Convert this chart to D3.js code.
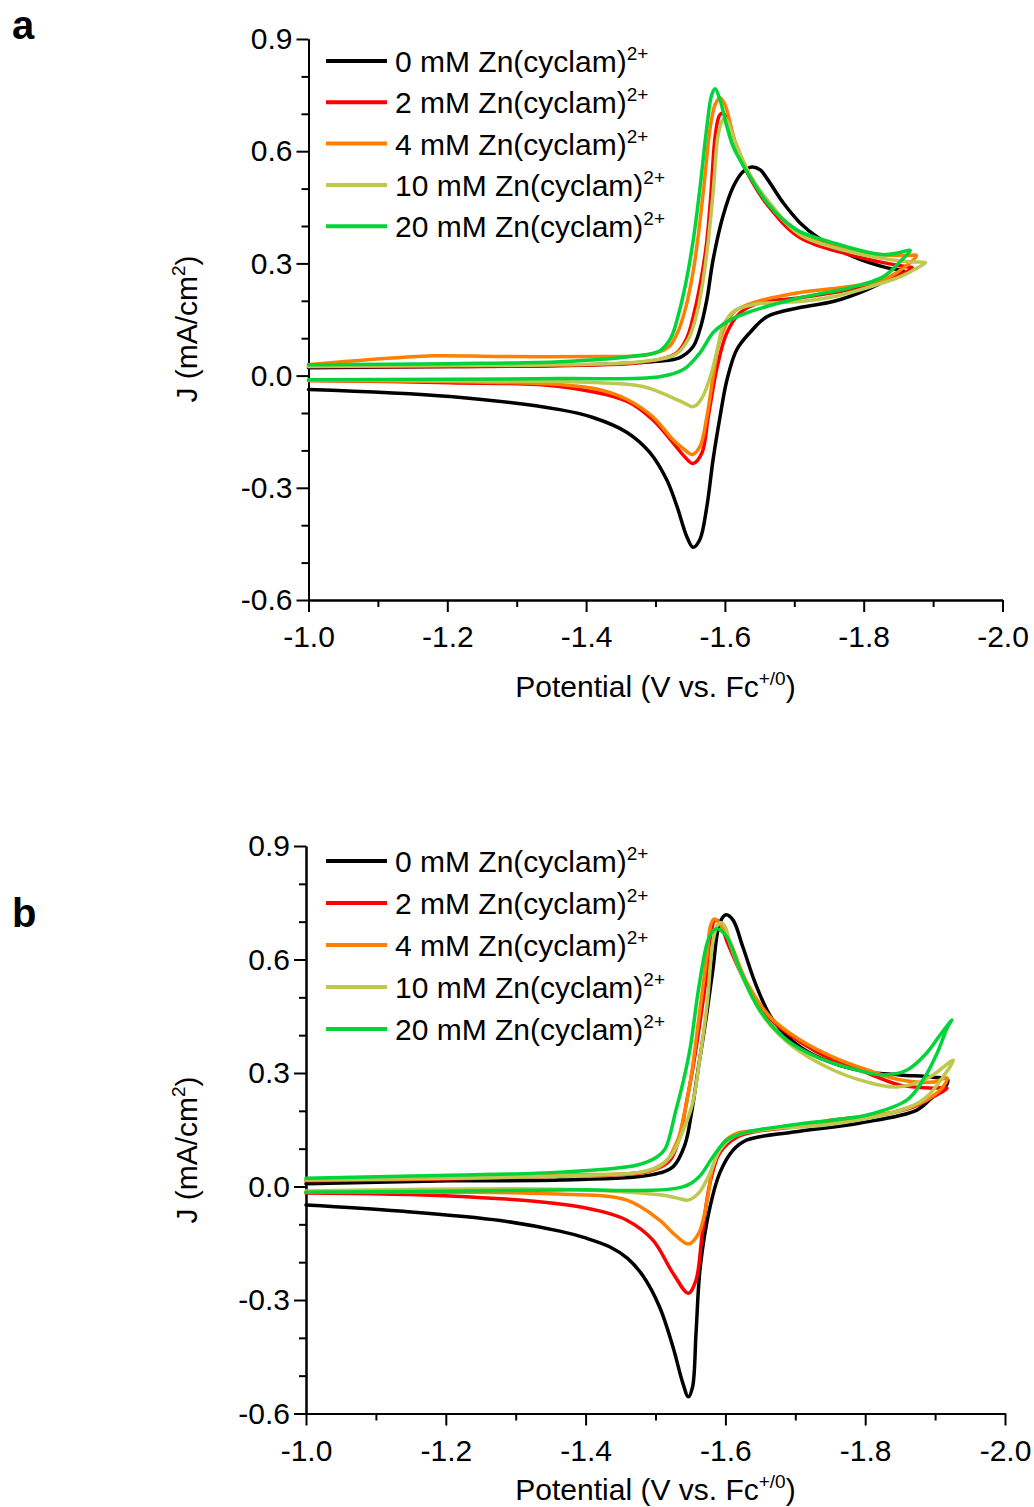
<!DOCTYPE html>
<html>
<head>
<meta charset="utf-8">
<script src="https://cdn.jsdelivr.net/npm/d3@7"></script>
<style>
    html, body { margin: 0; padding: 0; background: #fff; }
    svg { display: block; }
    text { font-family: "Liberation Sans", Arial, sans-serif; fill: #000; }
</style>
</head>
<body>
<svg id="chart" width="1034" height="1507"></svg>
<script>
// Cyclic voltammograms, [potential (V vs Fc+/0), J (mA/cm2)] in scan order.

const concentrations = ['0', '2', '4', '10', '20'];
const seriesColors = ['#000000', '#ff0000', '#ff8000', '#bec84e', '#00d43a'];

const E_MAJOR = [-1.0, -1.2, -1.4, -1.6, -1.8, -2.0];
const E_MINOR = [-1.1, -1.3, -1.5, -1.7, -1.9];
const J_MAJOR = [-0.6, -0.3, 0.0, 0.3, 0.6, 0.9];
const J_MINOR = [-0.5, -0.4, -0.2, -0.1, 0.1, 0.2, 0.4, 0.5, 0.7, 0.8];

// panel a
const cvA0 = [
    [-1.000, 0.021], [-1.204, 0.024], [-1.362, 0.027], [-1.478, 0.035], [-1.514, 0.040],
    [-1.535, 0.048], [-1.554, 0.077], [-1.564, 0.123], [-1.574, 0.203], [-1.583, 0.310],
    [-1.597, 0.425], [-1.612, 0.505], [-1.626, 0.545], [-1.639, 0.558], [-1.651, 0.550],
    [-1.661, 0.526], [-1.684, 0.462], [-1.708, 0.409], [-1.733, 0.371], [-1.785, 0.318],
    [-1.834, 0.288], [-1.857, 0.280],
    [-1.845, 0.267], [-1.805, 0.230], [-1.756, 0.198], [-1.708, 0.182], [-1.661, 0.158],
    [-1.636, 0.115], [-1.617, 0.069], [-1.603, -0.011], [-1.593, -0.110], [-1.583, -0.224],
    [-1.574, -0.350], [-1.564, -0.438], [-1.554, -0.459], [-1.545, -0.430], [-1.531, -0.350],
    [-1.516, -0.278], [-1.492, -0.206], [-1.459, -0.152], [-1.410, -0.112], [-1.362, -0.091],
    [-1.204, -0.056], [-1.000, -0.037]
];
const cvA2 = [
    [-1.000, 0.024], [-1.204, 0.024], [-1.362, 0.027], [-1.478, 0.035], [-1.530, 0.060],
    [-1.545, 0.100], [-1.556, 0.170], [-1.566, 0.260], [-1.574, 0.360], [-1.580, 0.489],
    [-1.586, 0.640], [-1.592, 0.695], [-1.597, 0.702], [-1.603, 0.684], [-1.612, 0.625],
    [-1.636, 0.529], [-1.661, 0.457], [-1.708, 0.369], [-1.780, 0.323], [-1.828, 0.302],
    [-1.862, 0.291], [-1.870, 0.288],
    [-1.862, 0.278], [-1.828, 0.251], [-1.780, 0.230], [-1.708, 0.208], [-1.651, 0.195],
    [-1.622, 0.168], [-1.603, 0.115], [-1.589, 0.024], [-1.576, -0.110], [-1.567, -0.206],
    [-1.554, -0.235], [-1.543, -0.219], [-1.525, -0.179], [-1.496, -0.118], [-1.459, -0.069],
    [-1.362, -0.029], [-1.204, -0.019], [-1.000, -0.013]
];
const cvA4 = [
    [-1.000, 0.029], [-1.089, 0.043], [-1.180, 0.053], [-1.276, 0.051], [-1.420, 0.051],
    [-1.478, 0.053], [-1.506, 0.064], [-1.521, 0.080], [-1.533, 0.120], [-1.544, 0.185],
    [-1.554, 0.275], [-1.562, 0.380], [-1.570, 0.510], [-1.579, 0.665], [-1.586, 0.725],
    [-1.593, 0.743], [-1.600, 0.725], [-1.607, 0.680], [-1.614, 0.630], [-1.636, 0.537],
    [-1.661, 0.465], [-1.708, 0.378], [-1.780, 0.337], [-1.828, 0.323], [-1.862, 0.321],
    [-1.876, 0.321],
    [-1.867, 0.302], [-1.828, 0.256], [-1.780, 0.238], [-1.708, 0.222], [-1.641, 0.195],
    [-1.612, 0.168], [-1.593, 0.096], [-1.583, -0.003], [-1.574, -0.110], [-1.564, -0.190],
    [-1.553, -0.211], [-1.541, -0.197], [-1.525, -0.171], [-1.496, -0.110], [-1.459, -0.064],
    [-1.420, -0.038], [-1.362, -0.024], [-1.204, -0.016], [-1.000, -0.013]
];
const cvA10 = [
    [-1.000, 0.024], [-1.204, 0.027], [-1.362, 0.029], [-1.478, 0.037], [-1.530, 0.058],
    [-1.548, 0.100], [-1.560, 0.170], [-1.569, 0.260], [-1.576, 0.360], [-1.583, 0.489],
    [-1.590, 0.640], [-1.596, 0.681], [-1.600, 0.689], [-1.606, 0.670], [-1.615, 0.622],
    [-1.636, 0.537], [-1.661, 0.470], [-1.708, 0.377], [-1.780, 0.331], [-1.828, 0.313],
    [-1.867, 0.304], [-1.889, 0.302],
    [-1.877, 0.288], [-1.852, 0.264], [-1.805, 0.235], [-1.756, 0.211], [-1.708, 0.198],
    [-1.641, 0.190], [-1.612, 0.171], [-1.597, 0.131], [-1.589, 0.069], [-1.579, -0.003],
    [-1.568, -0.056], [-1.558, -0.080], [-1.553, -0.083], [-1.543, -0.075], [-1.521, -0.056],
    [-1.482, -0.029], [-1.420, -0.019], [-1.362, -0.016], [-1.000, -0.011]
];
const cvA20 = [
    [-1.000, 0.029], [-1.204, 0.032], [-1.362, 0.037], [-1.464, 0.051], [-1.506, 0.066],
    [-1.522, 0.100], [-1.534, 0.170], [-1.545, 0.260], [-1.555, 0.370], [-1.564, 0.500],
    [-1.574, 0.665], [-1.581, 0.751], [-1.586, 0.767], [-1.593, 0.737], [-1.603, 0.665],
    [-1.612, 0.612], [-1.636, 0.532], [-1.661, 0.462], [-1.684, 0.417], [-1.708, 0.385],
    [-1.756, 0.355], [-1.780, 0.342], [-1.828, 0.323], [-1.852, 0.329], [-1.867, 0.335],
    [-1.852, 0.304], [-1.828, 0.264], [-1.780, 0.235], [-1.708, 0.208], [-1.632, 0.168],
    [-1.603, 0.144], [-1.583, 0.115], [-1.564, 0.061], [-1.540, 0.016], [-1.506, -0.003],
    [-1.362, -0.008], [-1.000, -0.011]
];

// panel b
const cvB0 = [
    [-1.000, 0.007], [-1.206, 0.015], [-1.363, 0.017], [-1.492, 0.030], [-1.525, 0.052],
    [-1.542, 0.110], [-1.552, 0.200], [-1.561, 0.310], [-1.572, 0.440], [-1.582, 0.572],
    [-1.592, 0.697], [-1.601, 0.718], [-1.611, 0.704], [-1.625, 0.633], [-1.645, 0.527],
    [-1.668, 0.440], [-1.707, 0.369], [-1.754, 0.326], [-1.803, 0.303], [-1.850, 0.295],
    [-1.897, 0.289], [-1.918, 0.282],
    [-1.911, 0.255], [-1.897, 0.237], [-1.874, 0.202], [-1.793, 0.168], [-1.697, 0.144],
    [-1.631, 0.123], [-1.611, 0.096], [-1.592, 0.036], [-1.578, -0.054], [-1.564, -0.213],
    [-1.558, -0.387], [-1.553, -0.530], [-1.547, -0.556], [-1.539, -0.519], [-1.525, -0.424],
    [-1.506, -0.319], [-1.482, -0.236], [-1.460, -0.190], [-1.435, -0.160], [-1.400, -0.136],
    [-1.363, -0.118], [-1.278, -0.090], [-1.134, -0.065], [-1.000, -0.049]
];
const cvB2 = [
    [-1.000, 0.015], [-1.206, 0.020], [-1.363, 0.028], [-1.492, 0.041], [-1.521, 0.070],
    [-1.535, 0.136], [-1.545, 0.229], [-1.553, 0.308], [-1.562, 0.414], [-1.572, 0.545],
    [-1.579, 0.665], [-1.585, 0.704], [-1.592, 0.697], [-1.603, 0.644], [-1.631, 0.532],
    [-1.664, 0.443], [-1.707, 0.382], [-1.754, 0.334], [-1.803, 0.300], [-1.850, 0.268],
    [-1.897, 0.260], [-1.917, 0.260],
    [-1.897, 0.237], [-1.868, 0.210], [-1.821, 0.189], [-1.754, 0.176], [-1.697, 0.157],
    [-1.649, 0.147], [-1.617, 0.131], [-1.592, 0.089], [-1.578, 0.009], [-1.567, -0.123],
    [-1.558, -0.247], [-1.547, -0.282], [-1.525, -0.229], [-1.496, -0.141], [-1.459, -0.089],
    [-1.421, -0.065], [-1.363, -0.046], [-1.206, -0.025], [-1.000, -0.017]
];
const cvB4 = [
    [-1.000, 0.017], [-1.206, 0.022], [-1.363, 0.030], [-1.506, 0.052], [-1.531, 0.120],
    [-1.542, 0.200], [-1.551, 0.290], [-1.562, 0.445], [-1.574, 0.617], [-1.579, 0.691],
    [-1.584, 0.707], [-1.591, 0.697], [-1.607, 0.644], [-1.631, 0.538], [-1.664, 0.448],
    [-1.707, 0.387], [-1.754, 0.342], [-1.803, 0.308], [-1.850, 0.282], [-1.897, 0.276],
    [-1.917, 0.287],
    [-1.911, 0.263], [-1.888, 0.229], [-1.850, 0.202], [-1.793, 0.181], [-1.707, 0.163],
    [-1.649, 0.149], [-1.617, 0.141], [-1.597, 0.115], [-1.582, 0.052], [-1.574, -0.036],
    [-1.562, -0.123], [-1.547, -0.152], [-1.525, -0.123], [-1.506, -0.089], [-1.459, -0.036],
    [-1.363, -0.020], [-1.206, -0.015], [-1.000, -0.015]
];
const cvB10 = [
    [-1.000, 0.017], [-1.206, 0.022], [-1.363, 0.028], [-1.492, 0.044], [-1.521, 0.078],
    [-1.538, 0.141], [-1.553, 0.220], [-1.562, 0.320], [-1.574, 0.485], [-1.582, 0.645],
    [-1.589, 0.692], [-1.594, 0.697], [-1.600, 0.685], [-1.607, 0.640], [-1.631, 0.527],
    [-1.658, 0.440], [-1.697, 0.369], [-1.754, 0.308], [-1.803, 0.276], [-1.840, 0.263],
    [-1.874, 0.274], [-1.897, 0.295], [-1.926, 0.334],
    [-1.911, 0.289], [-1.888, 0.237], [-1.864, 0.210], [-1.825, 0.189], [-1.745, 0.163],
    [-1.649, 0.149], [-1.611, 0.131], [-1.592, 0.096], [-1.578, 0.036], [-1.562, -0.017],
    [-1.547, -0.036], [-1.530, -0.030], [-1.506, -0.022], [-1.363, -0.007], [-1.000, -0.012]
];
const cvB20 = [
    [-1.000, 0.022], [-1.206, 0.030], [-1.363, 0.038], [-1.474, 0.057], [-1.502, 0.078],
    [-1.514, 0.100], [-1.529, 0.200], [-1.540, 0.280], [-1.550, 0.370], [-1.562, 0.527],
    [-1.574, 0.644], [-1.581, 0.673], [-1.588, 0.681], [-1.602, 0.660], [-1.621, 0.572],
    [-1.649, 0.467], [-1.688, 0.387], [-1.731, 0.342], [-1.778, 0.313], [-1.825, 0.295],
    [-1.860, 0.308], [-1.888, 0.353], [-1.907, 0.400], [-1.924, 0.440],
    [-1.918, 0.422], [-1.903, 0.353], [-1.883, 0.282], [-1.860, 0.229], [-1.803, 0.189],
    [-1.754, 0.176], [-1.697, 0.163], [-1.631, 0.144], [-1.602, 0.123], [-1.582, 0.078],
    [-1.562, 0.025], [-1.539, -0.001], [-1.363, -0.009], [-1.000, -0.015]
];

const svg = d3.select('#chart');
const fmt = d => d.toFixed(1);

function drawPanel(cfg) {
    const x = d3.scaleLinear().domain([-1.0, -2.0]).range([cfg.left, cfg.right]);
    const y = d3.scaleLinear().domain([-0.6, 0.9]).range([cfg.bottom, cfg.top]);
    const g = svg.append('g');

    // minor ticks first, major axes on top
    g.append('g')
        .attr('transform', `translate(0,${cfg.bottom})`)
        .call(d3.axisBottom(x).tickValues(E_MINOR).tickSize(7).tickSizeOuter(0).tickFormat(() => ''));
    g.append('g')
        .attr('transform', `translate(${cfg.left},0)`)
        .call(d3.axisLeft(y).tickValues(J_MINOR).tickSize(7).tickSizeOuter(0).tickFormat(() => ''));

    const xAxis = g.append('g')
        .attr('transform', `translate(0,${cfg.bottom})`)
        .call(d3.axisBottom(x).tickValues(E_MAJOR).tickSize(12).tickSizeOuter(0)
            .tickPadding(14).tickFormat(fmt));
    const yAxis = g.append('g')
        .attr('transform', `translate(${cfg.left},0)`)
        .call(d3.axisLeft(y).tickValues(J_MAJOR).tickSize(12).tickSizeOuter(0)
            .tickPadding(4).tickFormat(fmt));

    g.selectAll('.domain, .tick line').attr('stroke', '#000').attr('stroke-width', 2);
    [xAxis, yAxis].forEach(a => a.selectAll('text')
        .attr('font-family', '"Liberation Sans", Arial, sans-serif')
        .attr('font-size', 30).attr('fill', '#000'));

    const line = d3.line()
        .x(d => x(d[0]))
        .y(d => y(d[1]))
        .curve(d3.curveCatmullRom.alpha(0.5));

    g.append('g').selectAll('path')
        .data(cfg.series)
        .join('path')
        .attr('d', d => line(d))
        .attr('fill', 'none')
        .attr('stroke', (d, i) => seriesColors[i])
        .attr('stroke-width', 3.5)
        .attr('stroke-linejoin', 'round')
        .attr('stroke-linecap', 'round');

    // legend
    const leg = g.append('g').selectAll('g')
        .data(concentrations)
        .join('g')
        .attr('transform', (d, i) => `translate(0,${cfg.legendTop + i * cfg.legendStep})`);
    leg.append('line')
        .attr('x1', 326).attr('x2', 387)
        .attr('stroke', (d, i) => seriesColors[i])
        .attr('stroke-width', 4);
    const lt = leg.append('text')
        .attr('x', 395).attr('y', 11)
        .attr('font-size', 30);
    lt.append('tspan').text(d => `${d} mM Zn(cyclam)`);
    lt.append('tspan').attr('dy', -12).attr('font-size', 19).text('2+');

    // axis titles
    const xt = g.append('text')
        .attr('x', (cfg.left + cfg.right) / 2)
        .attr('y', cfg.xTitleY)
        .attr('text-anchor', 'middle')
        .attr('font-size', 30);
    xt.append('tspan').text('Potential (V vs. Fc');
    xt.append('tspan').attr('dy', -12).attr('font-size', 19).text('+/0');
    xt.append('tspan').attr('dy', 12).text(')');

    const yt = g.append('text')
        .attr('transform', `translate(${cfg.yTitleX},${cfg.yTitleY}) rotate(-90)`)
        .attr('text-anchor', 'middle')
        .attr('font-size', 30);
    yt.append('tspan').text('J (mA/cm');
    yt.append('tspan').attr('dy', -12).attr('font-size', 19).text('2');
    yt.append('tspan').attr('dy', 12).text(')');

    g.append('text')
        .attr('x', 12).attr('y', cfg.tagY)
        .attr('font-family', '"Open Sans", "DejaVu Sans", sans-serif')
        .attr('font-weight', 700)
        .attr('font-size', 40)
        .text(cfg.tag);
}

drawPanel({
    tag: 'a', tagY: 39,
    left: 308.5, right: 1002.5, top: 39, bottom: 600,
    series: [cvA0, cvA2, cvA4, cvA10, cvA20],
    legendTop: 61, legendStep: 41.3,
    xTitleY: 697, yTitleX: 197, yTitleY: 329
});

drawPanel({
    tag: 'b', tagY: 927,
    left: 306, right: 1005, top: 846, bottom: 1413.5,
    series: [cvB0, cvB2, cvB4, cvB10, cvB20],
    legendTop: 861, legendStep: 42,
    xTitleY: 1500, yTitleX: 197, yTitleY: 1150
});
</script>
</body>
</html>
